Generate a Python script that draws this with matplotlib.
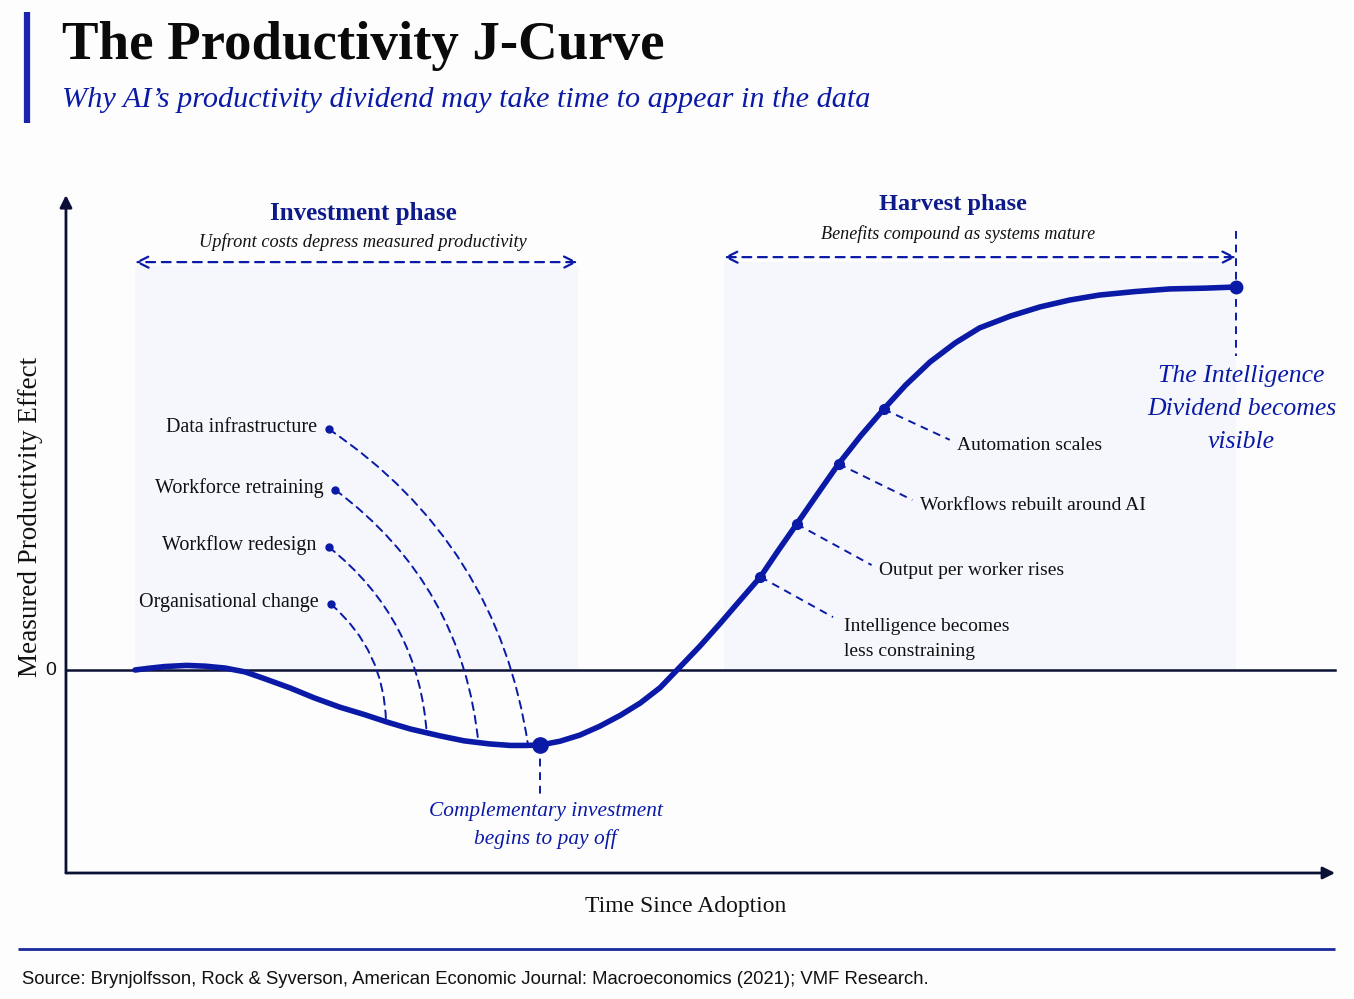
import numpy as np
import matplotlib
matplotlib.use("Agg")
import matplotlib.pyplot as plt

# J-curve (time since adoption, productivity effect)
t = [0.00, 0.14, 0.27, 0.47, 0.64, 0.82, 1.00, 1.18, 1.41, 1.63, 1.86, 2.09,
     2.29, 2.50, 2.77, 2.99, 3.22, 3.41, 3.54, 3.68, 3.86, 4.04, 4.22, 4.41,
     4.59, 4.77, 4.92, 5.13, 5.31, 5.49, 5.68, 5.84, 6.01, 6.20, 6.39, 6.59,
     6.80, 7.00, 7.22, 7.45, 7.67, 7.95, 8.22, 8.49, 8.76, 9.08, 9.40, 9.72,
     10.00]
effect = [0.000, 0.005, 0.009, 0.012, 0.010, 0.005, -0.005, -0.023, -0.047,
          -0.073, -0.097, -0.117, -0.136, -0.154, -0.172, -0.185, -0.193,
          -0.197, -0.197, -0.196, -0.186, -0.170, -0.147, -0.118, -0.086,
          -0.046, -0.001, 0.062, 0.120, 0.180, 0.243, 0.311, 0.381, 0.460,
          0.538, 0.611, 0.681, 0.744, 0.804, 0.854, 0.893, 0.924, 0.948,
          0.966, 0.979, 0.988, 0.995, 0.997, 1.000]

# investment-phase costs: label anchor and the point on the curve it joins
cost_labels = ["Data infrastructure", "Workforce retraining", "Workflow redesign",
               "Organisational change"]
cost_anchor_x = [1.76, 1.82, 1.76, 1.78]
cost_anchor_y = [0.629, 0.470, 0.321, 0.172]
cost_curve_x = [3.57, 3.12, 2.65, 2.28]
cost_curve_y = [-0.196, -0.193, -0.167, -0.136]

# harvest-phase gains
gain_labels = ["Automation scales", "Workflows rebuilt around AI",
               "Output per worker rises", "Intelligence becomes\nless constraining"]
gain_curve_x = [6.80, 6.39, 6.01, 5.68]
gain_curve_y = [0.681, 0.538, 0.381, 0.243]
gain_end_x = [7.40, 7.06, 6.69, 6.34]
gain_end_y = [0.601, 0.444, 0.274, 0.138]

trough = (3.68, -0.196)
plateau = (10.0, 1.0)

BLUE = "#0a1aa6"
NAVY = "#0d1a8a"
AXIS = "#0b1035"
SERIF = ["Liberation Serif", "DejaVu Serif"]
SANS = ["Liberation Sans", "DejaVu Sans"]

fig = plt.figure(figsize=(13.54, 9.99), dpi=100)
fig.patch.set_facecolor("#fdfdfe")
ax = fig.add_axes([0, 0, 1, 1])
ax.set_facecolor("none")
# pixel layout: t=0 at x=135px, 110.1 px per unit; effect=0 at y=670px, 383 px per unit
ax.set_xlim((0 - 135) / 110.1, (1354 - 135) / 110.1)
ax.set_ylim((670 - 999) / 383, (670 - 0) / 383)
ax.axis("off")

# phase shading
ax.axvspan(0, 4.02, ymin=(999 - 670) / 999, ymax=(999 - 266) / 999, color="#f5f7fc", lw=0, zorder=0)
ax.axvspan(5.35, 10.0, ymin=(999 - 670) / 999, ymax=(999 - 262) / 999, color="#f5f7fc", lw=0, zorder=0)

# axes with arrows
x0, x1 = -0.627, 10.90
y0, y1 = -0.530, 1.240
ax.annotate("", xy=(x1, y0), xytext=(x0, y0),
            arrowprops=dict(arrowstyle="-|>", color=AXIS, lw=2, mutation_scale=18, shrinkA=0, shrinkB=0))
ax.annotate("", xy=(x0, y1), xytext=(x0, y0),
            arrowprops=dict(arrowstyle="-|>", color=AXIS, lw=2, mutation_scale=18, shrinkA=0, shrinkB=0))
ax.plot([x0, x1], [0, 0], color=AXIS, lw=1.8, zorder=2)
ax.text(x0 - 0.09, -0.002, "0", family=SANS, fontsize=14, ha="right", va="center", color="#111")

# curve
ax.plot(t, effect, color=BLUE, lw=4, solid_capstyle="round", solid_joinstyle="round", zorder=5)

# investment leaders
for lab, ax_, ay_, cx_, cy_ in zip(cost_labels, cost_anchor_x, cost_anchor_y, cost_curve_x, cost_curve_y):
    ax.annotate("", xy=(cx_, cy_), xytext=(ax_, ay_),
                arrowprops=dict(arrowstyle="-", color=BLUE, lw=1.4, linestyle=(0, (4, 3)),
                                connectionstyle="arc3,rad=-0.22", shrinkA=0, shrinkB=0), zorder=4)
    ax.plot(ax_, ay_, "o", color=BLUE, ms=5, zorder=6)
    ax.text(ax_ - 0.11, ay_ + 0.005, lab, family=SERIF, fontsize=14.5, ha="right", va="center", color="#111")

# harvest leaders
for lab, cx_, cy_, ex_, ey_ in zip(gain_labels, gain_curve_x, gain_curve_y, gain_end_x, gain_end_y):
    ax.plot([cx_, ex_], [cy_, ey_], color=BLUE, lw=1.4, linestyle=(0, (4, 3)), zorder=4)
    ax.plot(cx_, cy_, "o", color=BLUE, ms=7, zorder=6)
    if "\n" in lab:
        ax.text(ex_ + 0.10, ey_ - 0.002, lab, family=SERIF, fontsize=14, ha="left", va="top",
                color="#111", linespacing=1.65)
    else:
        ax.text(ex_ + 0.07, ey_ - 0.015, lab, family=SERIF, fontsize=14, ha="left", va="center", color="#111")

# trough
ax.plot([trough[0], trough[0]], [trough[1], -0.33], color=BLUE, lw=1.4, linestyle=(0, (4, 3)), zorder=4)
ax.plot(*trough, "o", color=BLUE, ms=11, zorder=6)
ax.text(trough[0] + 0.05, -0.345, "Complementary investment\nbegins to pay off", family=SERIF,
        style="italic", fontsize=15.4, color=BLUE, ha="center", va="top", linespacing=1.56)

# plateau
ax.plot([plateau[0], plateau[0]], [1.145, 0.82], color=BLUE, lw=1.4, linestyle=(0, (4, 3)), zorder=4)
ax.plot(*plateau, "o", color=BLUE, ms=9, zorder=6)
ax.text(plateau[0] + 0.05, 0.797, "The Intelligence\nDividend becomes\nvisible", family=SERIF,
        style="italic", fontsize=18.5, color=BLUE, ha="center", va="top", linespacing=1.65)

# phase arrows and headings
ax.annotate("", xy=(0, 1.065), xytext=(4.02, 1.065),
            arrowprops=dict(arrowstyle="<->", color=BLUE, lw=1.6, linestyle=(0, (4, 3)),
                            mutation_scale=20, shrinkA=0, shrinkB=0))
ax.annotate("", xy=(5.35, 1.078), xytext=(10.0, 1.078),
            arrowprops=dict(arrowstyle="<->", color=BLUE, lw=1.6, linestyle=(0, (4, 3)),
                            mutation_scale=20, shrinkA=0, shrinkB=0))
ax.text(2.07, 1.192, "Investment phase", family=SERIF, fontweight="bold", fontsize=18,
        color=NAVY, ha="center", va="center")
ax.text(2.07, 1.117, "Upfront costs depress measured productivity", family=SERIF, style="italic",
        fontsize=13.2, color="#111", ha="center", va="center")
ax.text(7.43, 1.216, "Harvest phase", family=SERIF, fontweight="bold", fontsize=17.5,
        color=NAVY, ha="center", va="center")
ax.text(7.48, 1.139, "Benefits compound as systems mature", family=SERIF, style="italic",
        fontsize=13.1, color="#111", ha="center", va="center")

# axis titles
ax.text(x0 - 0.323, 0.40, "Measured Productivity Effect", family=SERIF, fontsize=19.5, rotation=90,
        ha="center", va="center", color="#111")
ax.text(5.0, -0.618, "Time Since Adoption", family=SERIF, fontsize=17, ha="center", va="center", color="#111")

# header
fig.add_artist(plt.Line2D([27 / 1354, 27 / 1354], [1 - 12 / 999, 1 - 123 / 999], color="#1a22b0",
                          lw=4.5, solid_capstyle="butt"))
fig.text(62 / 1354, 1 - 46 / 999, "The Productivity J-Curve", family=SERIF, fontweight="bold",
         fontsize=39.5, ha="left", va="center", color="#0a0a0a")
fig.text(62 / 1354, 1 - 100 / 999, "Why AI\u2019s productivity dividend may take time to appear in the data",
         family=SERIF, style="italic", fontsize=21.8, ha="left", va="center", color=BLUE)

# footer
fig.add_artist(plt.Line2D([18 / 1354, 1335 / 1354], [1 - 949 / 999, 1 - 949 / 999], color="#1a2a9c",
                          lw=2, solid_capstyle="butt"))
fig.text(22 / 1354, 1 - 980 / 999,
         "Source: Brynjolfsson, Rock & Syverson, American Economic Journal: Macroeconomics (2021); VMF Research.",
         family=SANS, fontsize=13.3, ha="left", va="center", color="#111")

fig.savefig("out.png", dpi=100, facecolor=fig.get_facecolor())
